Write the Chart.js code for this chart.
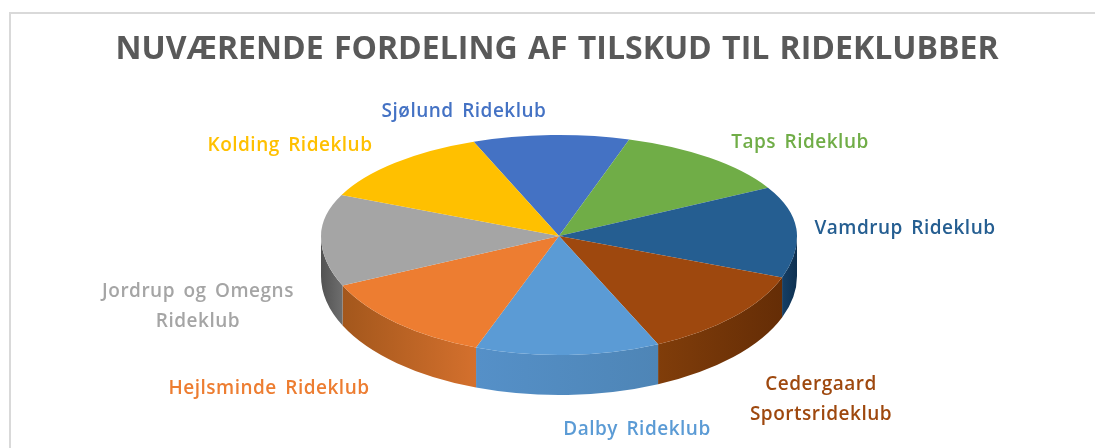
<!DOCTYPE html>
<html>
<head>
<meta charset="utf-8">
<style>
    html, body { margin: 0; background: #fff; }
    canvas { display: block; }
</style>
<script src="https://cdn.jsdelivr.net/npm/chart.js@4"></script>
</head>
<body>
<canvas id="pieChart" width="1095" height="448"></canvas>
<script>
const clubs = ["Sjølund Rideklub", "Taps Rideklub", "Vamdrup Rideklub", "Cedergaard Sportsrideklub",
    "Dalby Rideklub", "Hejlsminde Rideklub", "Jordrup og Omegns Rideklub", "Kolding Rideklub"]
// share, percent
const shares = [10.6, 12.3, 13.6, 12.5, 12.5, 12.5, 13.5, 12.5]
const colors = ["#4472c4", "#70ad47", "#255e91", "#9e480e", "#5b9bd5", "#ed7d31", "#a5a5a5", "#ffc000"]
// side wall of each slice, left colour then right colour
const wallColors = [null, null, ["#153f66", "#0e3050"], ["#803d0a", "#652d06"],
    ["#5590c8", "#4e85b6"], ["#a3571c", "#d4702d"], ["#525252", "#6e6e6e"], null]
const labelLines = [["Sjølund Rideklub"], ["Taps Rideklub"], ["Vamdrup Rideklub"], ["Cedergaard", "Sportsrideklub"],
    ["Dalby Rideklub"], ["Hejlsminde Rideklub"], ["Jordrup og Omegns", "Rideklub"], ["Kolding Rideklub"]]
const labelCenters = [[464, 112], [800, 143], [905, 229], [821, 385], [637, 430], [269, 389], [198, 292], [290, 146]]

// where the tilted pie sits on the page
const pieX = 559, pieY = 236, pieRx = 238, pieTopRy = 101, pieBottomRy = 119, pieDepth = 40

function drawWalls(ctx, arcs) {
    arcs.forEach((arc, i) => {
        const a = Math.max(arc.startAngle, 0)
        const b = Math.min(arc.endAngle, Math.PI)
        if (a >= b || !wallColors[i]) return
        const grad = ctx.createLinearGradient(pieX + pieRx * Math.cos(b), 0, pieX + pieRx * Math.cos(a), 0)
        grad.addColorStop(0, wallColors[i][0])
        grad.addColorStop(1, wallColors[i][1])
        ctx.fillStyle = grad
        ctx.beginPath()
        ctx.ellipse(pieX, pieY, pieRx, pieBottomRy, 0, a, b)
        ctx.ellipse(pieX, pieY + pieDepth, pieRx, pieBottomRy, 0, b, a, true)
        ctx.closePath()
        ctx.fill()
    })
}

// draws the arcs squashed, with a flatter half behind the centre to fake the perspective
const tiltPlugin = {
    id: "tilt",
    beforeDraw(chart) {
        const ctx = chart.ctx
        ctx.fillStyle = "#d9d9d9"
        ctx.fillRect(9, 12, 1086, 2)
        ctx.fillRect(9, 12, 2, 436)
        ctx.wordSpacing = "2px"
    },
    beforeDatasetsDraw(chart) {
        const ctx = chart.ctx
        const arcs = chart.getDatasetMeta(0).data
        const r = arcs[0].outerRadius
        ctx.save()
        drawWalls(ctx, arcs)
        const halves = [[0, pieY, pieTopRy], [pieY, chart.height - pieY, pieBottomRy]]
        halves.forEach(([top, height, ry]) => {
            ctx.save()
            ctx.beginPath()
            ctx.rect(0, top, chart.width, height)
            ctx.clip()
            ctx.translate(pieX, pieY)
            ctx.scale(pieRx / r, ry / r)
            ctx.translate(-arcs[0].x, -arcs[0].y)
            arcs.forEach(arc => arc.draw(ctx))
            ctx.restore()
        })
        ctx.restore()
        return false
    },
    afterDraw(chart) {
        const ctx = chart.ctx
        ctx.save()
        ctx.font = "600 19px 'Open Sans'"
        ctx.textAlign = "center"
        ctx.textBaseline = "middle"
        ctx.letterSpacing = "0.5px"
        ctx.wordSpacing = "3px"
        labelLines.forEach((lines, i) => {
            ctx.fillStyle = colors[i]
            lines.forEach((line, j) => {
                ctx.fillText(line, labelCenters[i][0], labelCenters[i][1] + j * 29.5)
            })
        })
        ctx.restore()
    }
}

new Chart(document.getElementById("pieChart"), {
    type: "pie",
    data: {
        labels: clubs,
        datasets: [{
            data: shares,
            backgroundColor: colors,
            borderWidth: 0
        }]
    },
    options: {
        responsive: false,
        animation: false,
        rotation: -21,
        layout: { padding: { left: 19 } },
        plugins: {
            legend: { display: false },
            tooltip: { enabled: false },
            title: {
                display: true,
                text: "NUVÆRENDE FORDELING AF TILSKUD TIL RIDEKLUBBER",
                color: "#595959",
                font: { family: "'Open Sans'", size: 32, weight: "bold" },
                padding: { top: 31, bottom: 10 }
            }
        }
    },
    plugins: [tiltPlugin]
})
</script>
</body>
</html>
